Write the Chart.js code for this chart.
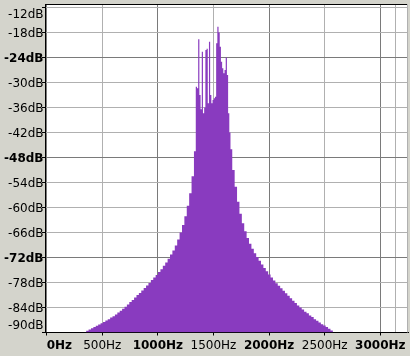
<!DOCTYPE html>
<html><head><meta charset="utf-8">
<script src="https://cdn.jsdelivr.net/npm/chart.js@4.4.1/dist/chart.umd.min.js"></script>
<style>
html,body{margin:0;padding:0;background:#d4d4cc;overflow:hidden}
#c{display:block}
</style>
</head><body>
<canvas id="c" width="410" height="356"></canvas>
<script>
// ---- data ----
const leftHz = [344.5,366.1,387.6,409.1,430.7,452.2,473.7,495.3,516.8,538.3,559.9,581.4,602.9,624.5,646.0,667.5,689.1,710.6,732.1,753.7,775.2,796.7,818.3,839.8,861.3,882.9,904.4,925.9,947.5,969.0,990.5,1012.1,1033.6,1055.1,1076.7,1098.2,1119.7,1141.3,1162.8,1184.3,1205.9,1227.4,1248.9,1270.5,1292.0,1313.5,1335.1];
const leftDb = [-90.0,-89.6,-89.3,-89.0,-88.7,-88.4,-88.1,-87.8,-87.5,-87.1,-86.8,-86.4,-86.1,-85.7,-85.2,-84.8,-84.3,-83.8,-83.3,-82.7,-82.2,-81.6,-81.0,-80.5,-79.9,-79.3,-78.7,-78.1,-77.4,-76.8,-76.2,-75.5,-74.8,-74.0,-73.2,-72.3,-71.3,-70.3,-69.1,-67.7,-66.0,-64.2,-62.1,-59.6,-56.6,-52.5,-46.5];
const peakHz = [1346.2,1356.9,1367.7,1378.5,1389.3,1400.0,1410.8,1421.6,1432.3,1443.1,1453.9,1464.6,1475.4,1486.2,1496.9,1507.7,1518.5,1529.3,1540.0,1550.8,1561.6,1572.3,1583.1,1593.9,1604.6,1615.4,1626.2,1636.9,1647.7];
const peakDb = [-31.0,-31.4,-19.6,-33.0,-36.4,-22.6,-37.4,-36.0,-22.2,-21.9,-35.0,-20.2,-33.0,-35.0,-34.2,-33.8,-33.4,-20.6,-16.6,-18.0,-21.4,-25.0,-26.6,-27.8,-27.0,-24.0,-28.2,-37.4,-42.0];
const rightHz = [1658.0,1679.6,1701.1,1722.6,1744.2,1765.7,1787.2,1808.8,1830.3,1851.8,1873.4,1894.9,1916.4,1938.0,1959.5,1981.0,2002.6,2024.1,2045.6,2067.2,2088.7,2110.2,2131.8,2153.3,2174.8,2196.4,2217.9,2239.4,2261.0,2282.5,2304.0,2325.6,2347.1,2368.6,2390.2,2411.7,2433.2,2454.8,2476.3,2497.8,2519.4,2540.9,2562.4,2584.0];
const rightDb = [-46.0,-51.0,-55.0,-58.6,-61.5,-63.8,-65.7,-67.3,-68.7,-69.9,-71.0,-71.9,-72.8,-73.7,-74.5,-75.3,-76.1,-76.8,-77.5,-78.2,-78.8,-79.4,-80.0,-80.6,-81.2,-81.8,-82.4,-82.9,-83.5,-84.0,-84.5,-85.0,-85.4,-85.9,-86.3,-86.8,-87.2,-87.6,-88.0,-88.3,-88.7,-89.1,-89.5,-90.0];

const yTicks = [-90,-84,-78,-72,-66,-60,-54,-48,-42,-36,-30,-24,-18,-12];
const yMajor = [-72,-48,-24];
const xTicks = [0,500,1000,1500,2000,2500,3000];
const xMajor = [0,1000,2000,3000];
const xExtraGrid = [3140];
const yLabel = v => v + 'dB';
const xLabel = v => v + 'Hz';

const freqs = leftHz.concat(peakHz, rightHz);
const levels = leftDb.concat(peakDb, rightDb);
const points = freqs.map((f, i) => ({x: f, y: levels[i]}));

const LIGHT = '#b0b0b0', DARK = '#7a7a7a';
const FILL = 'rgb(137,59,191)';
const FONT = 'DejaVu Sans';

const plotBg = {
  id: 'plotBg',
  beforeDraw(chart) {
    const {ctx, chartArea: a} = chart;
    ctx.save();
    ctx.fillStyle = '#ffffff';
    ctx.fillRect(a.left, a.top, a.right - a.left, a.bottom - a.top);
    ctx.restore();
  }
};

const axisText = {
  id: 'axisText',
  afterDraw(chart) {
    const {ctx, chartArea: a, scales: {x, y}} = chart;
    ctx.save();
    ctx.strokeStyle = '#000';
    ctx.lineWidth = 1;
    ctx.beginPath(); ctx.moveTo(a.left, 4.5); ctx.lineTo(a.right, 4.5); ctx.stroke();
    ctx.strokeStyle = LIGHT;
    ctx.beginPath(); ctx.moveTo(a.right - 0.5, a.top); ctx.lineTo(a.right - 0.5, a.bottom); ctx.stroke();

    ctx.fillStyle = '#000';
    ctx.textBaseline = 'alphabetic';
    ctx.textAlign = 'right';
    yTicks.forEach(v => {
      let py = y.getPixelForValue(v);
      py = Math.min(Math.max(py, a.top + 9), a.bottom - 8.5);
      ctx.font = (yMajor.includes(v) ? 'bold ' : '') + '12px "' + FONT + '"';
      ctx.fillText(yLabel(v), 43.5, py + 4.5);
    });
    xTicks.forEach((v, i) => {
      const px = x.getPixelForValue(v);
      ctx.font = (xMajor.includes(v) ? 'bold ' : '') + '12px "' + FONT + '"';
      ctx.textAlign = i === 0 ? 'left' : 'center';
      ctx.fillText(xLabel(v), px, 349);
    });
    ctx.restore();
  }
};

new Chart(document.getElementById('c'), {
  type: 'line',
  data: {
    datasets: [{
      data: points,
      stepped: 'middle',
      fill: 'start',
      backgroundColor: FILL,
      borderColor: 'rgba(0,0,0,0)',
      borderWidth: 1,
      pointRadius: 0,
      pointHoverRadius: 0
    }]
  },
  options: {
    responsive: false,
    devicePixelRatio: 1,
    animation: false,
    events: [],
    layout: {padding: {top: 4, right: 2, left: 0, bottom: 0}},
    plugins: {legend: {display: false}, tooltip: {enabled: false}},
    scales: {
      x: {
        type: 'linear', min: -15, max: 3249,
        afterBuildTicks: s => { s.ticks = xTicks.concat(xExtraGrid).map(v => ({value: v})); },
        afterFit: s => { s.height = 23.5; },
        ticks: {display: false},
        grid: {
          color: c => xMajor.includes(c.tick.value) ? DARK : LIGHT,
          tickColor: c => xExtraGrid.includes(c.tick.value) ? 'rgba(0,0,0,0)' : '#000',
          tickLength: 3, drawTicks: true, lineWidth: 1
        },
        border: {display: true, color: '#000', width: 1}
      },
      y: {
        type: 'linear', min: -90, max: -11.16,
        afterBuildTicks: s => { s.ticks = yTicks.map(v => ({value: v})); },
        afterFit: s => { s.width = 45; },
        ticks: {display: false},
        grid: {
          color: c => yMajor.includes(c.tick.value) ? DARK : LIGHT,
          tickColor: '#000',
          tickLength: 3, drawTicks: true, lineWidth: 1
        },
        border: {display: true, color: '#000', width: 1}
      }
    }
  },
  plugins: [plotBg, axisText]
});
</script>
</body></html>
